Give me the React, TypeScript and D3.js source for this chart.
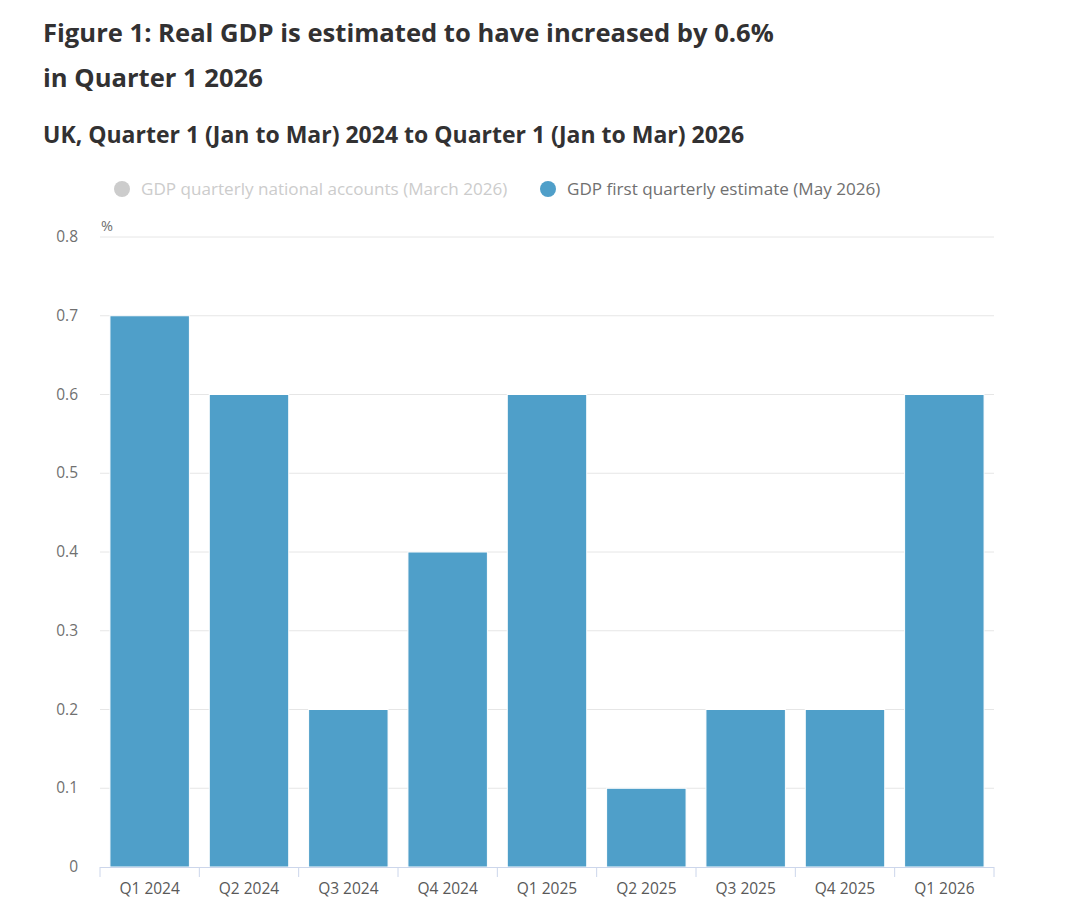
import * as d3 from 'd3';

const categories = ['Q1 2024', 'Q2 2024', 'Q3 2024', 'Q4 2024', 'Q1 2025', 'Q2 2025', 'Q3 2025', 'Q4 2025', 'Q1 2026'];
const firstEstimate = [0.7, 0.6, 0.2, 0.4, 0.6, 0.1, 0.2, 0.2, 0.6];
const yTicks = [0, 0.1, 0.2, 0.3, 0.4, 0.5, 0.6, 0.7, 0.8];
const legendItems = [
  { label: 'GDP quarterly national accounts (March 2026)', color: '#cccccc', text: '#cccccc' },
  { label: 'GDP first quarterly estimate (May 2026)', color: '#4f9fc9', text: '#707070' },
];

const width = 1080;
const height = 922;
const margin = { left: 100, right: 86, top: 237, bottom: 55 };
const font = "'Open Sans', sans-serif";

export default function App() {
  const x = d3
    .scaleBand<string>()
    .domain(categories)
    .range([margin.left, width - margin.right])
    .paddingInner(0.2)
    .paddingOuter(0.1);

  const y = d3
    .scaleLinear()
    .domain([0, 0.8])
    .range([height - margin.bottom, margin.top]);

  const step = x.step();
  const left = margin.left;
  const baseline = y(0);

  return (
    <div style={{ position: 'absolute', left: 0, top: 0 }}>
      <svg width={width} height={height} style={{ display: 'block', fontFamily: font }}>
        <rect width={width} height={height} fill='#ffffff' />

        {/* titles */}
        <text x={43} y={42} fontSize={25.6} fontWeight={700} fill='#323132'>
          Figure 1: Real GDP is estimated to have increased by 0.6%
        </text>
        <text x={43} y={87} fontSize={25.6} fontWeight={700} fill='#323132'>
          in Quarter 1 2026
        </text>
        <text x={43} y={143} fontSize={23} fontWeight={700} fill='#323132'>
          UK, Quarter 1 (Jan to Mar) 2024 to Quarter 1 (Jan to Mar) 2026
        </text>

        {/* legend */}
        {legendItems.map((item, i) => {
          const lx = i === 0 ? 122 : 548;
          return (
            <g key={item.label}>
              <circle cx={lx} cy={189} r={8} fill={item.color} />
              <text x={lx + 19} y={195} fontSize={17.1} fill={item.text}>
                {item.label}
              </text>
            </g>
          );
        })}

        {/* gridlines */}
        {yTicks.map((t) => (
          <g key={t}>
            {t > 0 && (
              <line x1={left} x2={width - margin.right} y1={y(t)} y2={y(t)} stroke='#e6e6e6' strokeWidth={1} />
            )}
            <text x={78} y={y(t) + 5} fontSize={15.5} fill='#707070' textAnchor='end'>
              {t === 0 ? '0' : d3.format('.1f')(t)}
            </text>
          </g>
        ))}
        <text x={101} y={231} fontSize={14.5} fill='#707070'>
          %
        </text>

        {/* bars */}
        {categories.map((c, i) => (
          <rect
            key={c}
            x={x(c)}
            y={y(firstEstimate[i])}
            width={x.bandwidth()}
            height={baseline - y(firstEstimate[i])}
            fill='#4f9fc9'
            stroke='#ffffff'
            strokeWidth={1}
          />
        ))}

        {/* x axis */}
        <line x1={left} x2={width - margin.right} y1={baseline + 0.5} y2={baseline + 0.5} stroke='#ccd6eb' strokeWidth={1} />
        {d3.range(categories.length + 1).map((i) => (
          <line
            key={i}
            x1={left + i * step}
            x2={left + i * step}
            y1={baseline}
            y2={baseline + 10}
            stroke='#ccd6eb'
            strokeWidth={1}
          />
        ))}
        {categories.map((c) => (
          <text key={c} x={(x(c) ?? 0) + x.bandwidth() / 2} y={baseline + 27} fontSize={15.5} fill='#595959' textAnchor='middle'>
            {c}
          </text>
        ))}
      </svg>
    </div>
  );
}
